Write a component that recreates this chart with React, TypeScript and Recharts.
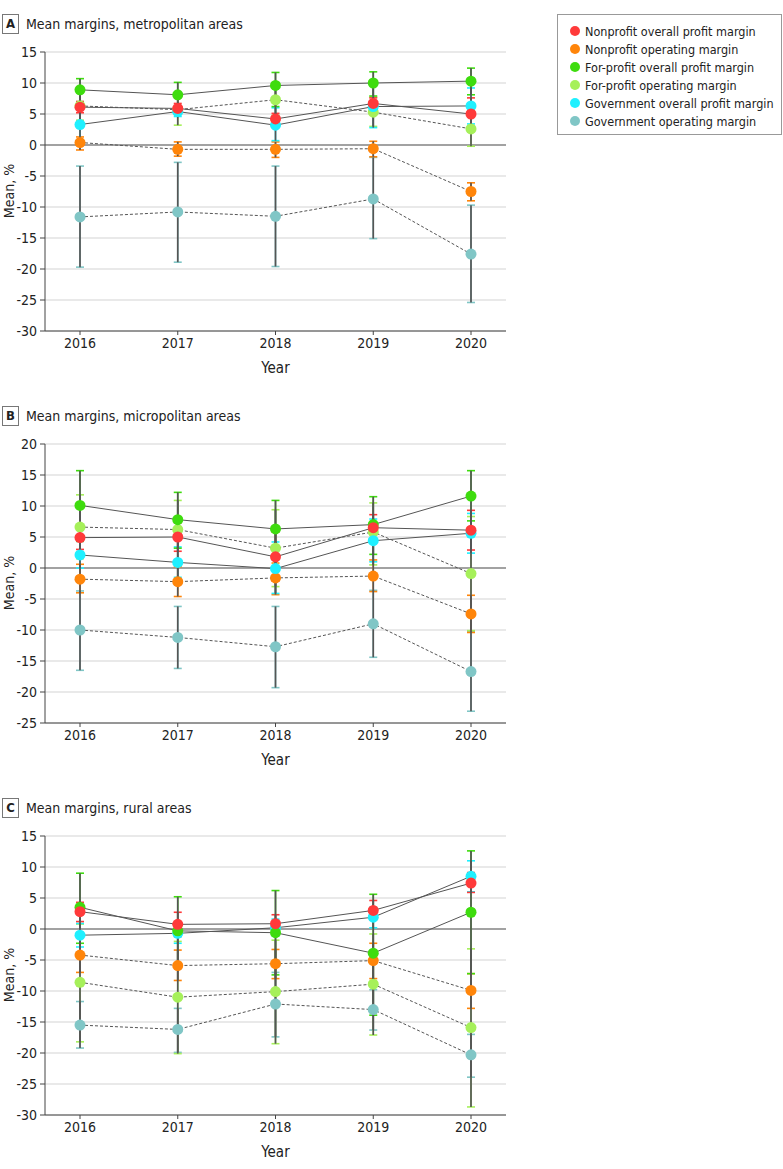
import React from "react";
import { LineChart, Line, XAxis, YAxis, CartesianGrid, ErrorBar, ReferenceLine } from "recharts";

const FONT = "'Liberation Sans Narrow', 'DejaVu Sans Condensed', 'Arial Narrow', sans-serif";

const YEARS = ["2016", "2017", "2018", "2019", "2020"];

const SERIES_KEYS = ["npOverall", "npOperating", "fpOverall", "fpOperating", "govOverall", "govOperating"];
const SERIES_NAMES = [
  "Nonprofit overall profit margin",
  "Nonprofit operating margin",
  "For-profit overall profit margin",
  "For-profit operating margin",
  "Government overall profit margin",
  "Government operating margin",
];
const COLORS = ["#FF3A3A", "#FF850A", "#3EDC0E", "#A6F05A", "#1FF0FF", "#80C6C6"];
const DASHED = [false, true, false, true, false, true];
// back to front
const DRAW_ORDER = ["govOperating", "fpOperating", "npOperating", "govOverall", "fpOverall", "npOverall"];

// A - metropolitan
const metroNpOverall = [6.1, 5.9, 4.2, 6.7, 5.0];
const metroNpOverallCI = [[5.2, 7.0], [5.1, 6.7], [3.2, 5.1], [6.0, 7.6], [2.2, 7.6]];
const metroNpOperating = [0.4, -0.7, -0.7, -0.6, -7.5];
const metroNpOperatingCI = [[-0.8, 1.3], [-1.8, 0.5], [-2.0, 0.5], [-1.9, 0.6], [-9.0, -6.1]];
const metroFpOverall = [8.9, 8.1, 9.6, 10.0, 10.3];
const metroFpOverallCI = [[7.0, 10.7], [6.1, 10.1], [6.2, 11.7], [7.9, 11.8], [8.1, 12.4]];
const metroFpOperating = [6.3, 5.7, 7.3, 5.3, 2.6];
const metroFpOperatingCI = [[4.0, 8.6], [3.2, 8.2], [4.8, 9.8], [3.0, 7.7], [-0.2, 5.3]];
const metroGovOverall = [3.3, 5.4, 3.2, 6.2, 6.3];
const metroGovOverallCI = [[0.8, 5.8], [4.6, 6.2], [0.7, 6.0], [2.8, 9.6], [3.4, 9.2]];
const metroGovOperating = [-11.6, -10.8, -11.5, -8.7, -17.6];
const metroGovOperatingCI = [[-19.7, -3.4], [-18.9, -2.8], [-19.6, -3.4], [-15.1, -2.0], [-25.4, -9.7]];

// B - micropolitan
const microNpOverall = [4.9, 5.0, 1.8, 6.5, 6.1];
const microNpOverallCI = [[3.0, 6.8], [2.7, 7.3], [-2.1, 5.8], [4.3, 8.6], [2.9, 9.3]];
const microNpOperating = [-1.8, -2.2, -1.6, -1.3, -7.4];
const microNpOperatingCI = [[-4.0, 0.6], [-4.6, 0.2], [-4.3, 0.8], [-3.8, 1.3], [-10.4, -4.4]];
const microFpOverall = [10.1, 7.8, 6.3, 7.0, 11.6];
const microFpOverallCI = [[4.3, 15.7], [3.2, 12.2], [1.6, 10.9], [2.2, 11.5], [7.6, 15.7]];
const microFpOperating = [6.6, 6.2, 3.2, 5.8, -0.9];
const microFpOperatingCI = [[1.5, 11.8], [1.2, 10.9], [-3.0, 9.4], [0.5, 10.5], [-10.1, 8.3]];
const microGovOverall = [2.1, 0.9, -0.1, 4.4, 5.6];
const microGovOverallCI = [[0.0, 4.3], [-1.5, 3.4], [-4.1, 4.2], [1.0, 7.9], [2.4, 8.8]];
const microGovOperating = [-10.0, -11.2, -12.7, -9.0, -16.7];
const microGovOperatingCI = [[-16.5, -3.7], [-16.2, -6.2], [-19.3, -6.2], [-14.4, -3.6], [-23.1, -10.2]];

// C - rural
const ruralNpOverall = [2.8, 0.75, 0.85, 3.0, 7.4];
const ruralNpOverallCI = [[1.2, 4.3], [-1.2, 2.7], [-0.5, 2.3], [1.5, 4.6], [5.9, 9.1]];
const ruralNpOperating = [-4.2, -5.9, -5.6, -5.1, -9.9];
const ruralNpOperatingCI = [[-7.0, -1.3], [-8.3, -3.4], [-8.0, -3.3], [-8.0, -2.3], [-12.8, -7.2]];
const ruralFpOverall = [3.5, -0.3, -0.6, -3.9, 2.7];
const ruralFpOverallCI = [[-2.3, 9.0], [-5.7, 5.2], [-7.4, 6.2], [-13.9, 5.6], [-7.2, 12.6]];
const ruralFpOperating = [-8.6, -11.0, -10.1, -8.9, -15.9];
const ruralFpOperatingCI = [[-18.2, 0.8], [-20.1, -2.0], [-18.5, -1.8], [-17.1, -0.8], [-28.7, -3.2]];
const ruralGovOverall = [-1.0, -0.7, 0.2, 1.9, 8.5];
const ruralGovOverallCI = [[-2.9, 0.9], [-2.3, 0.9], [-1.1, 1.6], [0.2, 3.5], [6.0, 11.0]];
const ruralGovOperating = [-15.5, -16.2, -12.1, -13.0, -20.3];
const ruralGovOperatingCI = [[-19.2, -11.7], [-19.9, -12.8], [-17.4, -7.0], [-16.3, -9.8], [-23.9, -17.0]];

const TICKS_A = [-30, -25, -20, -15, -10, -5, 0, 5, 10, 15];
const TICKS_B = [-25, -20, -15, -10, -5, 0, 5, 10, 15, 20];
const TICKS_C = [-30, -25, -20, -15, -10, -5, 0, 5, 10, 15];

type Pair = [number[], number[][]];

function buildRows(series: Pair[]) {
  return YEARS.map((year, i) => {
    const row: any = { year };
    series.forEach(([mean, ci], s) => {
      const k = SERIES_KEYS[s];
      row[k] = mean[i];
      row[k + "Err"] = [mean[i] - ci[i][0], ci[i][1] - mean[i]];
    });
    return row;
  });
}

const metroRows = buildRows([
  [metroNpOverall, metroNpOverallCI], [metroNpOperating, metroNpOperatingCI],
  [metroFpOverall, metroFpOverallCI], [metroFpOperating, metroFpOperatingCI],
  [metroGovOverall, metroGovOverallCI], [metroGovOperating, metroGovOperatingCI],
]);
const microRows = buildRows([
  [microNpOverall, microNpOverallCI], [microNpOperating, microNpOperatingCI],
  [microFpOverall, microFpOverallCI], [microFpOperating, microFpOperatingCI],
  [microGovOverall, microGovOverallCI], [microGovOperating, microGovOperatingCI],
]);
const ruralRows = buildRows([
  [ruralNpOverall, ruralNpOverallCI], [ruralNpOperating, ruralNpOperatingCI],
  [ruralFpOverall, ruralFpOverallCI], [ruralFpOperating, ruralFpOperatingCI],
  [ruralGovOverall, ruralGovOverallCI], [ruralGovOperating, ruralGovOperatingCI],
]);

const tickStyle = { fontFamily: FONT, fontSize: 14, fill: "#222" };

function Panel({ top, letter, title, rows, ticks }: { top: number; letter: string; title: string; rows: any[]; ticks: number[] }) {
  const idx = (k: string) => SERIES_KEYS.indexOf(k);
  return (
    <div style={{ position: "absolute", left: 0, top, width: 540, height: 392 }}>
      <div style={{ position: "absolute", left: 2, top: 14, width: 15, height: 18, border: "1px solid #777", fontFamily: FONT, fontWeight: "bold", fontSize: 13, lineHeight: "18px", textAlign: "center", color: "#222" }}>
        {letter}
      </div>
      <div style={{ position: "absolute", left: 26, top: 14, fontFamily: FONT, fontSize: 14, lineHeight: "20px", color: "#222" }}>
        {title}
      </div>
      <div style={{ position: "absolute", left: 9, top: 191, transform: "translate(-50%, -50%) rotate(-90deg)", fontFamily: FONT, fontSize: 14, color: "#222", whiteSpace: "nowrap" }}>
        Mean, %
      </div>
      <div style={{ position: "absolute", left: 0, top: 0 }}>
        <LineChart width={520} height={390} data={rows} margin={{ top: 52, right: 14, bottom: 9, left: 0 }}>
          <CartesianGrid vertical={false} stroke="#e2e2e2" strokeWidth={1.5} />
          <XAxis
            dataKey="year"
            padding={{ left: 35, right: 35 }}
            height={50}
            tickSize={4}
            tickMargin={3}
            stroke="#444"
            tick={tickStyle}
            label={{ value: "Year", position: "insideBottom", offset: 8, style: { fontFamily: FONT, fontSize: 15, fill: "#222" } }}
          />
          <YAxis
            width={45}
            domain={[ticks[0], ticks[ticks.length - 1]]}
            ticks={ticks}
            interval={0}
            tickSize={5}
            tickMargin={3}
            stroke="#444"
            tick={tickStyle}
          />
          <ReferenceLine y={0} stroke="#8a8a8a" strokeWidth={1.5} />
          {DRAW_ORDER.map((k) => (
            <Line
              key={"line-" + k}
              dataKey={k}
              stroke="#555"
              strokeWidth={1}
              strokeDasharray={DASHED[idx(k)] ? "3 2" : undefined}
              dot={false}
              activeDot={false}
              isAnimationActive={false}
            />
          ))}
          {DRAW_ORDER.map((k) => (
            <Line
              key={"cap-" + k}
              dataKey={k}
              stroke="none"
              dot={false}
              activeDot={false}
              isAnimationActive={false}
            >
              <ErrorBar dataKey={k + "Err"} width={4} stroke={COLORS[idx(k)]} strokeWidth={1.6} />
            </Line>
          ))}
          {DRAW_ORDER.map((k) => (
            <Line
              key={"stem-" + k}
              dataKey={k}
              stroke="none"
              dot={false}
              activeDot={false}
              isAnimationActive={false}
            >
              <ErrorBar dataKey={k + "Err"} width={0} stroke="#555" strokeWidth={1.7} />
            </Line>
          ))}
          {DRAW_ORDER.map((k) => (
            <Line
              key={"dot-" + k}
              dataKey={k}
              stroke="none"
              dot={{ r: 5.5, fill: COLORS[idx(k)], stroke: "none", strokeWidth: 0 }}
              activeDot={false}
              isAnimationActive={false}
            />
          ))}
        </LineChart>
      </div>
    </div>
  );
}

function LegendBox() {
  return (
    <div style={{ position: "absolute", left: 557, top: 14, width: 225, height: 121, border: "1px solid #999", boxSizing: "border-box", paddingTop: 7, fontFamily: FONT, fontSize: 12.5, color: "#222" }}>
      {SERIES_NAMES.map((name, i) => (
        <div key={name} style={{ display: "flex", alignItems: "center", height: 18 }}>
          <span style={{ flexShrink: 0, display: "inline-block", width: 10, height: 10, borderRadius: 5, background: COLORS[i], marginLeft: 12, marginRight: 5 }} />
          <span style={{ whiteSpace: "nowrap" }}>{name}</span>
        </div>
      ))}
    </div>
  );
}

export default function App() {
  return (
    <div style={{ position: "absolute", left: 0, top: 0, width: 783, height: 1169, background: "#fff" }}>
      <Panel top={0} letter="A" title="Mean margins, metropolitan areas" rows={metroRows} ticks={TICKS_A} />
      <Panel top={392} letter="B" title="Mean margins, micropolitan areas" rows={microRows} ticks={TICKS_B} />
      <Panel top={784} letter="C" title="Mean margins, rural areas" rows={ruralRows} ticks={TICKS_C} />
      <LegendBox />
    </div>
  );
}
